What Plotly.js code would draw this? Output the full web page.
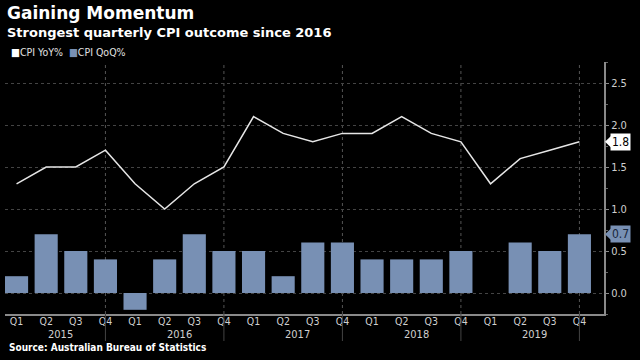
<!DOCTYPE html>
<html>
<head>
<meta charset="utf-8">
<script src="https://cdn.plot.ly/plotly-3.0.1.min.js"></script>
<style>
html,body{margin:0;padding:0;background:#000;}
#chart{width:640px;height:360px;}
</style>
</head>
<body>
<div id="chart"></div>
<script>
const quarters = ["Q1","Q2","Q3","Q4","Q1","Q2","Q3","Q4","Q1","Q2","Q3","Q4","Q1","Q2","Q3","Q4","Q1","Q2","Q3","Q4"];
const years = ["2015","2016","2017","2018","2019"];
const cpiYoY = [1.3,1.5,1.5,1.7,1.3,1.0,1.3,1.5,2.1,1.9,1.8,1.9,1.9,2.1,1.9,1.8,1.3,1.6,1.7,1.8];
const cpiQoQ = [0.2,0.7,0.5,0.4,-0.2,0.4,0.7,0.5,0.5,0.2,0.6,0.6,0.4,0.4,0.4,0.5,0.0,0.6,0.5,0.7];
const yTicks = [0,0.5,1.0,1.5,2.0,2.5];

const idx = quarters.map((q,i)=>i);
const narrow = "Liberation Sans Narrow, DejaVu Sans Condensed, Arial Narrow, sans-serif";
const barColor = "#7890b4";
const lineColor = "#e6e6e6";

const traces = [
  {type:"bar", x:idx, y:cpiQoQ, marker:{color:barColor}, width:0.78, name:"CPI QoQ%", hoverinfo:"skip"},
  {type:"scatter", mode:"lines", x:idx, y:cpiYoY, line:{color:lineColor, width:1.5}, name:"CPI YoY%", hoverinfo:"skip"}
];

// pixel geometry: plot area top 62, bottom 314, height 252
const plotTop = 62, plotH = 252;
function py(pix){ return (plotTop + plotH - pix)/plotH; }

const shapes = [];
const annotations = [];
// year separators through Q4 positions
years.forEach((yr,k)=>{
  const xq4 = 4*k+3;
  shapes.push({type:"line", xref:"x", yref:"paper", x0:xq4, x1:xq4, y0:0, y1:1, layer:"below",
    line:{color:"#555", width:1, dash:"dot"}});
  shapes.push({type:"line", xref:"x", yref:"paper", x0:xq4, x1:xq4, y0:py(341), y1:0, layer:"above",
    line:{color:"#444", width:1}});
  annotations.push({xref:"x", yref:"paper", x:4*k+1.5, y:py(334), text:yr, showarrow:false,
    yanchor:"middle", xanchor:"center", font:{family:narrow, size:11, color:"#cfcfcf"}});
});

// value labels on right axis
const lastYoY = cpiYoY[cpiYoY.length-1];
const lastQoQ = cpiQoQ[cpiQoQ.length-1];
function tag(val, bg, fg){
  const dy = 0.068;
  shapes.push({type:"path", xref:"paper", yref:"y", layer:"above",
    path:`M 1.0017 ${val} L 1.0117 ${val+dy} L 1.0117 ${val-dy} Z`,
    fillcolor:bg, line:{width:0}});
  annotations.push({xref:"paper", yref:"y", x:1.0100, y:val, text:val.toFixed(1), showarrow:false,
    xanchor:"left", yanchor:"middle", bgcolor:bg, borderpad:1,
    font:{family:narrow, size:12, color:fg}});
}
tag(lastYoY, "#ffffff", "#000000");
tag(lastQoQ, barColor, "#17253a");

// titles, legend, source
annotations.push({xref:"paper", yref:"paper", x:0.0, y:py(12.5), text:"<b>Gaining Momentum</b>", showarrow:false,
  xanchor:"left", yanchor:"middle", font:{family:"DejaVu Sans, sans-serif", size:17, color:"#ffffff"}});
annotations.push({xref:"paper", yref:"paper", x:0.0, y:py(33), text:"<b>Strongest quarterly CPI outcome since 2016</b>", showarrow:false,
  xanchor:"left", yanchor:"middle", font:{family:"DejaVu Sans, sans-serif", size:13, color:"#ffffff"}});
annotations.push({xref:"paper", yref:"paper", x:0.007, y:py(52.5), text:"<span style='color:#ffffff'>■</span>CPI YoY%  <span style='color:"+barColor+"'>■</span>CPI QoQ%", showarrow:false,
  xanchor:"left", yanchor:"middle", font:{family:narrow, size:10.5, color:"#e0e0e0"}});
annotations.push({xref:"paper", yref:"paper", x:0.003, y:py(347.5), text:"<b>Source: Australian Bureau of Statistics</b>", showarrow:false,
  xanchor:"left", yanchor:"middle", font:{family:"DejaVu Sans Condensed, DejaVu Sans, sans-serif", size:10, color:"#ffffff"}});

const layout = {
  width:640, height:360,
  paper_bgcolor:"#000000", plot_bgcolor:"#000000",
  margin:{l:5, r:36, t:62, b:46},
  showlegend:false,
  xaxis:{
    range:[-0.39, 19.83],
    tickmode:"array", tickvals:idx, ticktext:quarters,
    showgrid:false, zeroline:false,
    showline:true, linecolor:"#8a8a8a", linewidth:1.5,
    ticks:"", ticklabelstandoff:-3,
    tickfont:{family:narrow, size:10.5, color:"#cfcfcf"},
    fixedrange:true
  },
  yaxis:{
    side:"right",
    range:[-0.25, 2.75],
    tickmode:"array", tickvals:yTicks, ticktext:yTicks.map(v=>v.toFixed(1)),
    showgrid:true, gridcolor:"#444444", griddash:"dot", gridwidth:1,
    zeroline:false,
    showline:true, linecolor:"#8a8a8a", linewidth:2,
    ticks:"outside", ticklen:3, tickcolor:"#8a8a8a", tickwidth:1,
    minor:{dtick:0.25, tick0:0, ticks:"outside", ticklen:2, tickcolor:"#666", showgrid:false},
    tickfont:{family:narrow, size:11, color:"#cfcfcf"},
    fixedrange:true
  },
  shapes:shapes,
  annotations:annotations
};

Plotly.newPlot("chart", traces, layout, {staticPlot:true, displayModeBar:false});
</script>
</body>
</html>
